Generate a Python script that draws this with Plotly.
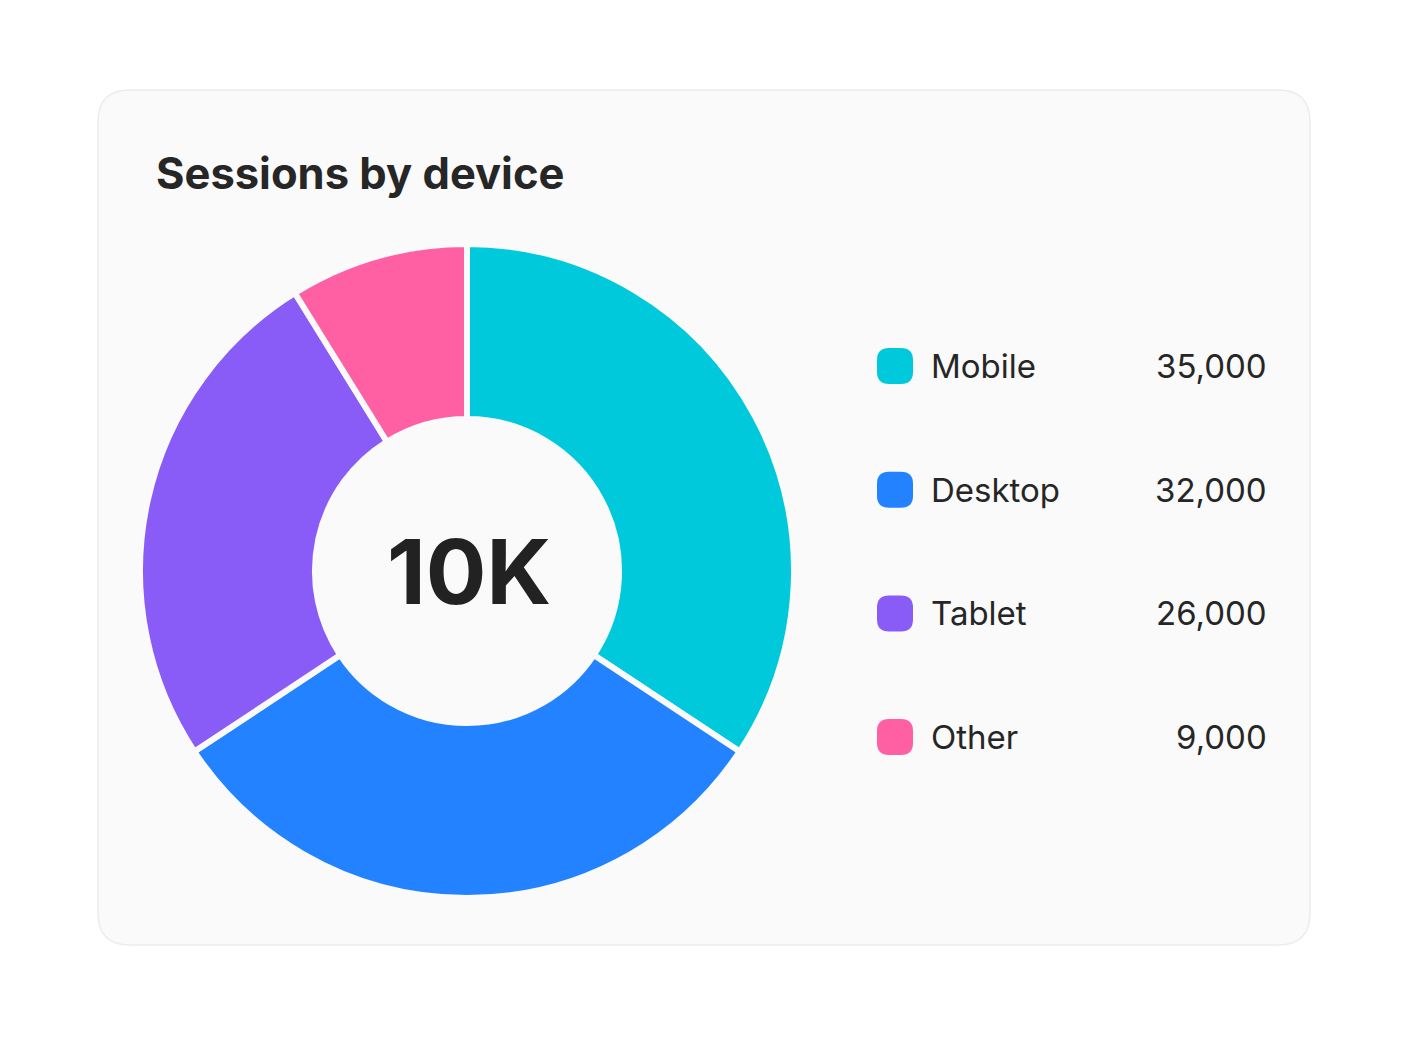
import plotly.graph_objects as go

# data
devices = ["Mobile", "Desktop", "Tablet", "Other"]
sessions = [35000, 32000, 26000, 9000]
colors = ["#00C9DB", "#2382FF", "#8A5CF7", "#FF5FA3"]
center_label = "10K"
title_text = "Sessions by device"

W, H = 1408, 1056
OFF = 8  # page margin of the browser


def px(x):
    return (x - OFF) / W


def py(y):
    return 1 - (y - OFF) / H


def rounded_rect(x0, y0, x1, y1, r):
    # path in paper coords from pixel box (y downwards)
    return (
        f"M {px(x0 + r)},{py(y0)} L {px(x1 - r)},{py(y0)} "
        f"Q {px(x1)},{py(y0)} {px(x1)},{py(y0 + r)} "
        f"L {px(x1)},{py(y1 - r)} Q {px(x1)},{py(y1)} {px(x1 - r)},{py(y1)} "
        f"L {px(x0 + r)},{py(y1)} Q {px(x0)},{py(y1)} {px(x0)},{py(y1 - r)} "
        f"L {px(x0)},{py(y0 + r)} Q {px(x0)},{py(y0)} {px(x0 + r)},{py(y0)} Z"
    )


cx, cy, rad = 467, 571, 327

fig = go.Figure()
fig.add_trace(go.Pie(
    labels=devices,
    values=sessions,
    marker=dict(colors=colors, line=dict(color="#fafafa", width=6)),
    hole=0.465,
    sort=False,
    direction="clockwise",
    rotation=0,
    textinfo="none",
    showlegend=False,
    domain=dict(x=[px(cx - rad), px(cx + rad)], y=[py(cy + rad), py(cy - rad)]),
))

shapes = [dict(
    type="path", xref="paper", yref="paper",
    path=rounded_rect(98, 90, 1310, 945, 32),
    fillcolor="#fafafa", line=dict(color="#ececec", width=1.5),
    layer="below",
)]

annotations = [
    dict(text=title_text, x=px(154), y=py(173), xref="paper", yref="paper",
         xanchor="left", yanchor="middle", showarrow=False,
         font=dict(family="Inter", size=43.5, color="#262626", weight=700)),
    dict(text=center_label, x=px(cx + 2), y=py(cy), xref="paper", yref="paper",
         xanchor="center", yanchor="middle", showarrow=False,
         font=dict(family="Inter", size=90, color="#222222", weight=700)),
]

row0, step = 366, 123.7
for i, (name, val, col) in enumerate(zip(devices, sessions, colors)):
    ry = row0 + i * step
    shapes.append(dict(
        type="path", xref="paper", yref="paper",
        path=rounded_rect(877, ry - 18, 913, ry + 18, 12),
        fillcolor=col, line=dict(width=0),
    ))
    annotations.append(dict(
        text=name, x=px(929), y=py(ry), xref="paper", yref="paper",
        xanchor="left", yanchor="middle", showarrow=False,
        font=dict(family="Inter", size=33, color="#262626"),
    ))
    annotations.append(dict(
        text=f"{val:,}", x=px(1269), y=py(ry), xref="paper", yref="paper",
        xanchor="right", yanchor="middle", showarrow=False,
        font=dict(family="Inter", size=33, color="#262626"),
    ))

fig.update_layout(
    width=W, height=H,
    margin=dict(l=0, r=0, t=0, b=0),
    paper_bgcolor="white",
    plot_bgcolor="white",
    shapes=shapes,
    annotations=annotations,
)

fig.write_html("out.html")
